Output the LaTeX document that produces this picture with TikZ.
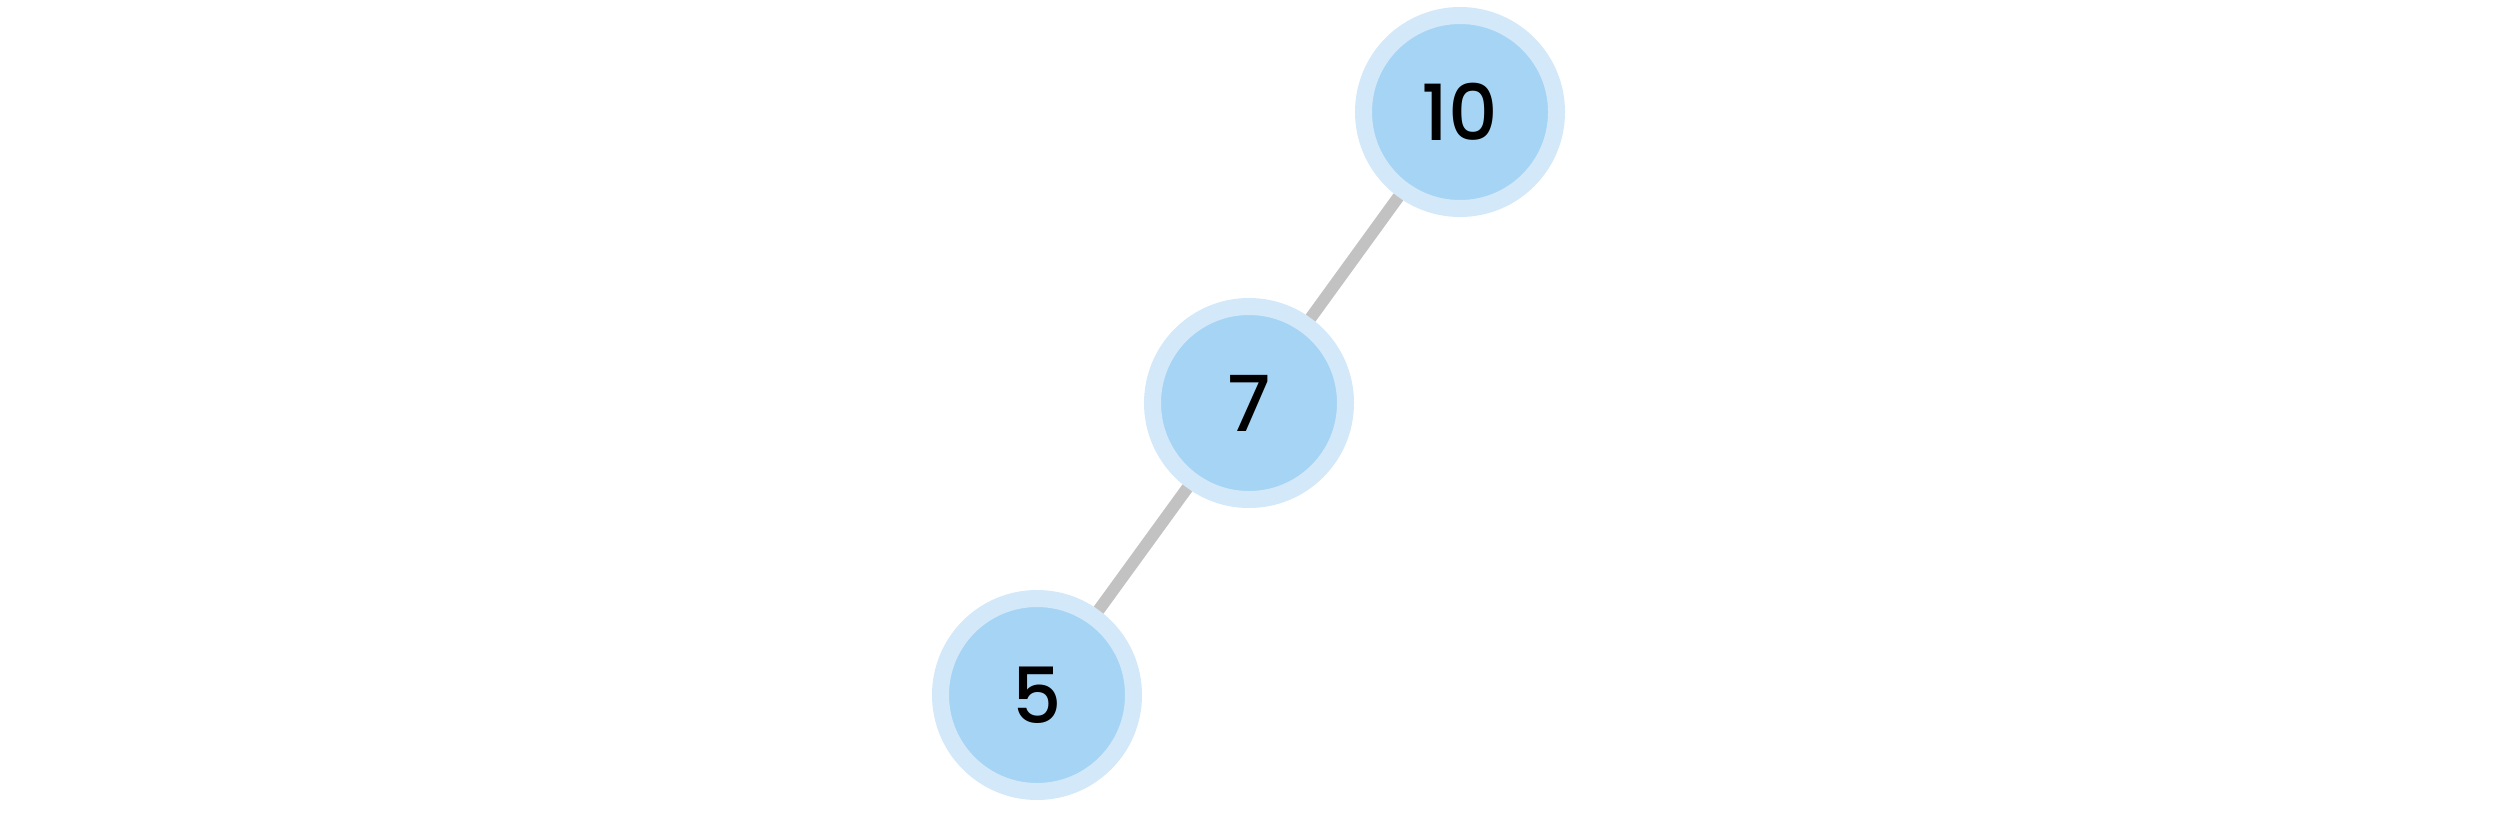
\documentclass[tikz,border=0pt]{standalone}
\usepackage{fontspec}
\setmainfont{Poppins}[BoldFont={Poppins Medium}]
\definecolor{nodefill}{HTML}{A6D4F4}
\definecolor{noderim}{HTML}{D3E8F9}
\definecolor{edgegray}{HTML}{C2C2C2}
\begin{document}
\begin{tikzpicture}[
  treenode/.style={circle,fill=nodefill,draw=noderim,line width=0.17cm,
    minimum size=1.93cm,inner sep=0pt,font=\fontsize{22}{26}\selectfont\bfseries},
  treeedge/.style={edgegray,line width=0.12cm}]
  \useasboundingbox (0,0) rectangle (24.97,8.30);
  \node[treenode] (n10) at (14.60,7.18) {10};
  \node[treenode] (n7) at (12.49,4.27) {7};
  \node[treenode] (n5) at (10.37,1.35) {5};
  \draw[treeedge] (n10) -- (n7);
  \draw[treeedge] (n7) -- (n5);
\end{tikzpicture}
\end{document}
